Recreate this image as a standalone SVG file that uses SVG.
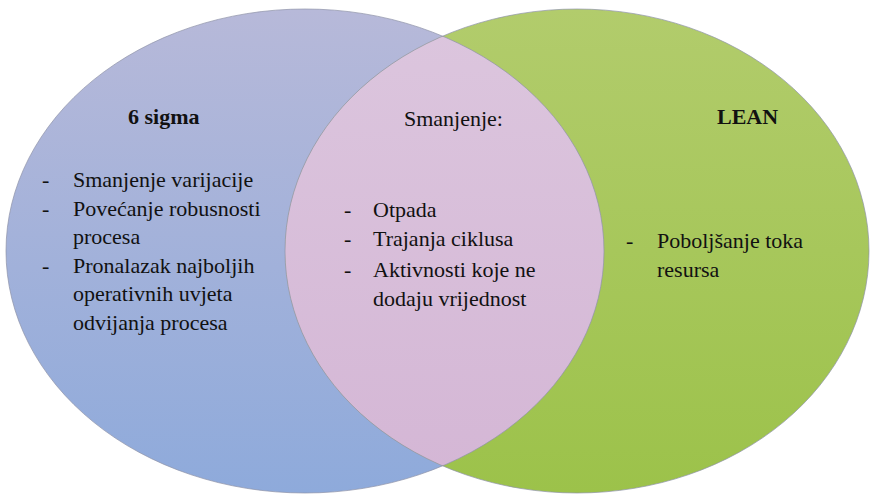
<svg xmlns="http://www.w3.org/2000/svg" width="871" height="495" viewBox="0 0 871 495">
<style>
.t{font-family:'Liberation Serif','Times New Roman',serif;font-size:22px;fill:#111;}
.h{font-weight:bold;}
.edge{fill:none;stroke:#8f93a8;stroke-width:1;stroke-opacity:0.7;}
</style>
<defs>
<linearGradient id="gBlue" x1="0" y1="0" x2="0" y2="1">
<stop offset="0" stop-color="#b7b9d9"/>
<stop offset="1" stop-color="#8eaadb"/>
</linearGradient>
<linearGradient id="gGreen" x1="0" y1="0" x2="0" y2="1">
<stop offset="0" stop-color="#b2cc6c"/>
<stop offset="1" stop-color="#9cc24a"/>
</linearGradient>
<linearGradient id="gPink" x1="0" y1="0" x2="0" y2="1">
<stop offset="0" stop-color="#dcc6de"/>
<stop offset="1" stop-color="#d4b6d5"/>
</linearGradient>
<clipPath id="clipLeft">
<ellipse cx="305" cy="251" rx="299" ry="242"/>
</clipPath>
</defs>
<g id="sigma">
<ellipse cx="305" cy="251" rx="299" ry="242" fill="url(#gBlue)"/>
</g>
<g id="lean">
<ellipse cx="577" cy="251" rx="292" ry="242" fill="url(#gGreen)"/>
</g>
<g id="overlap">
<ellipse cx="577" cy="251" rx="292" ry="242" fill="url(#gPink)" clip-path="url(#clipLeft)"/>
</g>
<g id="connectors">
<ellipse class="edge" cx="305" cy="251" rx="299" ry="242"/>
<ellipse class="edge" cx="577" cy="251" rx="292" ry="242"/>
</g>
<g id="sigma-text">
<text class="t h" x="128" y="124">6 sigma</text>
<text class="t" x="42" y="187">-</text><text class="t" x="73" y="187">Smanjenje varijacije</text>
<text class="t" x="42" y="215.5">-</text><text class="t" x="73" y="215.5">Povećanje robusnosti</text>
<text class="t" x="73" y="244">procesa</text>
<text class="t" x="42" y="272.5">-</text><text class="t" x="73" y="272.5">Pronalazak najboljih</text>
<text class="t" x="73" y="301">operativnih uvjeta</text>
<text class="t" x="73" y="329.5">odvijanja procesa</text>
</g>
<g id="overlap-text">
<text class="t" x="404" y="126">Smanjenje:</text>
<text class="t" x="344" y="217">-</text><text class="t" x="373" y="217">Otpada</text>
<text class="t" x="344" y="246">-</text><text class="t" x="373" y="246">Trajanja ciklusa</text>
<text class="t" x="344" y="277">-</text><text class="t" x="373" y="277">Aktivnosti koje ne</text>
<text class="t" x="373" y="306">dodaju vrijednost</text>
</g>
<g id="lean-text">
<text class="t h" x="717" y="124">LEAN</text>
<text class="t" x="626" y="248">-</text><text class="t" x="657" y="248">Poboljšanje toka</text>
<text class="t" x="657" y="277">resursa</text>
</g>
</svg>
